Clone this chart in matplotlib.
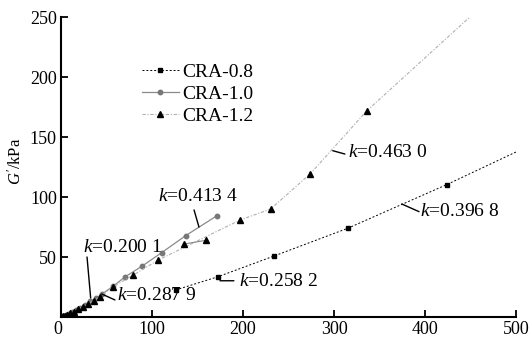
import matplotlib
matplotlib.use("Agg")
import matplotlib.pyplot as plt

plt.rcParams['font.family'] = ['Liberation Serif', 'DejaVu Serif']
plt.rcParams['mathtext.fontset'] = 'custom'
plt.rcParams['mathtext.rm'] = 'Liberation Serif'
plt.rcParams['mathtext.it'] = 'Liberation Serif:italic'

# CRA-0.8
x08 = [126, 172.6, 234, 315, 423.8, 500]
y08 = [22.5, 33.6, 50.8, 73.9, 110.3, 137.5]
# CRA-1.0
x10 = [0.5, 1.5, 3, 5, 8, 12, 16, 21, 26, 32, 38, 45, 57.5, 70.7, 88.7, 110.6, 137, 171.4]
y10 = [0.3, 0.6, 1, 1.6, 2.5, 4, 5.5, 7.8, 10, 13, 15.5, 19, 25.8, 33.6, 42.2, 53.6, 67.8, 84.4]
# CRA-1.2
x12 = [0.5, 2, 4, 7, 10, 14, 19, 24, 30, 36, 43, 57.5, 78.8, 107, 196.7, 230.4, 274, 335.9, 458]
y12 = [0.3, 0.7, 1.2, 2, 3, 4.5, 6.5, 8.5, 11, 13.5, 17, 25.3, 34.7, 47.5, 80.8, 90, 119.4, 171.7, 256]
x12b = [135.2, 159.3]
y12b = [60.8, 63.9]

xticks = [0, 100, 200, 300, 400, 500]
yticks = [50, 100, 150, 200, 250]
slopes = ['0.200 1', '0.413 4', '0.287 9', '0.258 2', '0.463 0', '0.396 8']

fig = plt.figure(figsize=(5.32, 3.41), dpi=100)
ax = fig.add_axes([61/532, 24/341, 455/532, 300/341])

ax.plot(x08, y08, color='black', lw=0.7, ls=(0, (2, 2)), marker='s', ms=3,
        markevery=slice(0, -1), label='CRA-0.8')
ax.plot(x10, y10, color='#8a8a8a', lw=0.9, marker='o', ms=3.2,
        markerfacecolor='#777777', markeredgecolor='#777777', label='CRA-1.0')
ax.plot(x12, y12, color='#b0b0b0', lw=0.8, ls=(0, (3, 1.5, 1, 1.5)), marker='^', ms=4,
        markerfacecolor='black', markeredgecolor='black', label='CRA-1.2')
ax.plot(x12b, y12b, color='#888888', lw=0.8, marker='^', ms=4,
        markerfacecolor='black', markeredgecolor='black')

ax.set_xlim(0, 500)
ax.set_ylim(0, 250)
ax.set_xticks(xticks)
ax.set_xticklabels([''] + [str(v) for v in xticks[1:]])
ax.set_yticks(yticks)
ax.spines['top'].set_visible(False)
ax.spines['right'].set_visible(False)
for s in ['left', 'bottom']:
    ax.spines[s].set_linewidth(1.5)
ax.tick_params(direction='in', length=5, width=1.3, labelsize=13, pad=3)
ax.text(-0.008, -0.014, str(xticks[0]), transform=ax.transAxes, ha='center', va='top', fontsize=13)

ax.set_ylabel("$G'$/kPa", fontsize=12)
ax.yaxis.set_label_coords(-0.08, 0.52)

kw = dict(fontsize=14, va='center')
lk = dict(arrowstyle='-', color='black', lw=1.0, shrinkA=0, shrinkB=0)
ax.text(68, 57.5, '$k$=' + slopes[0], ha='center', **kw)
ax.annotate('', xy=(32.6, 15.8), xytext=(28.6, 50), arrowprops=lk)
ax.text(150.5, 100.5, '$k$=' + slopes[1], ha='center', **kw)
ax.annotate('', xy=(151.6, 75), xytext=(146.2, 89.2), arrowprops=lk)
ax.text(61, 17.5, '$k$=' + slopes[2], ha='left', **kw)
ax.annotate('', xy=(44.7, 19.2), xytext=(59.3, 14.2), arrowprops=lk)
ax.text(196, 29.5, '$k$=' + slopes[3], ha='left', **kw)
ax.annotate('', xy=(174.7, 30.2), xytext=(190, 30.2), arrowprops=lk)
ax.text(315.5, 137, '$k$=' + slopes[4], ha='left', **kw)
ax.annotate('', xy=(298.6, 138.6), xytext=(312, 135.8), arrowprops=lk)
ax.text(395, 88, '$k$=' + slopes[5], ha='left', **kw)
ax.annotate('', xy=(374.4, 94.2), xytext=(393.4, 87.8), arrowprops=lk)

ax.legend(loc='upper left', bbox_to_anchor=(0.178, 0.845), frameon=False, fontsize=14,
          borderpad=0, borderaxespad=0, handlelength=1.9, handletextpad=0.15,
          labelspacing=0.22)

fig.savefig('out.png', dpi=100)
